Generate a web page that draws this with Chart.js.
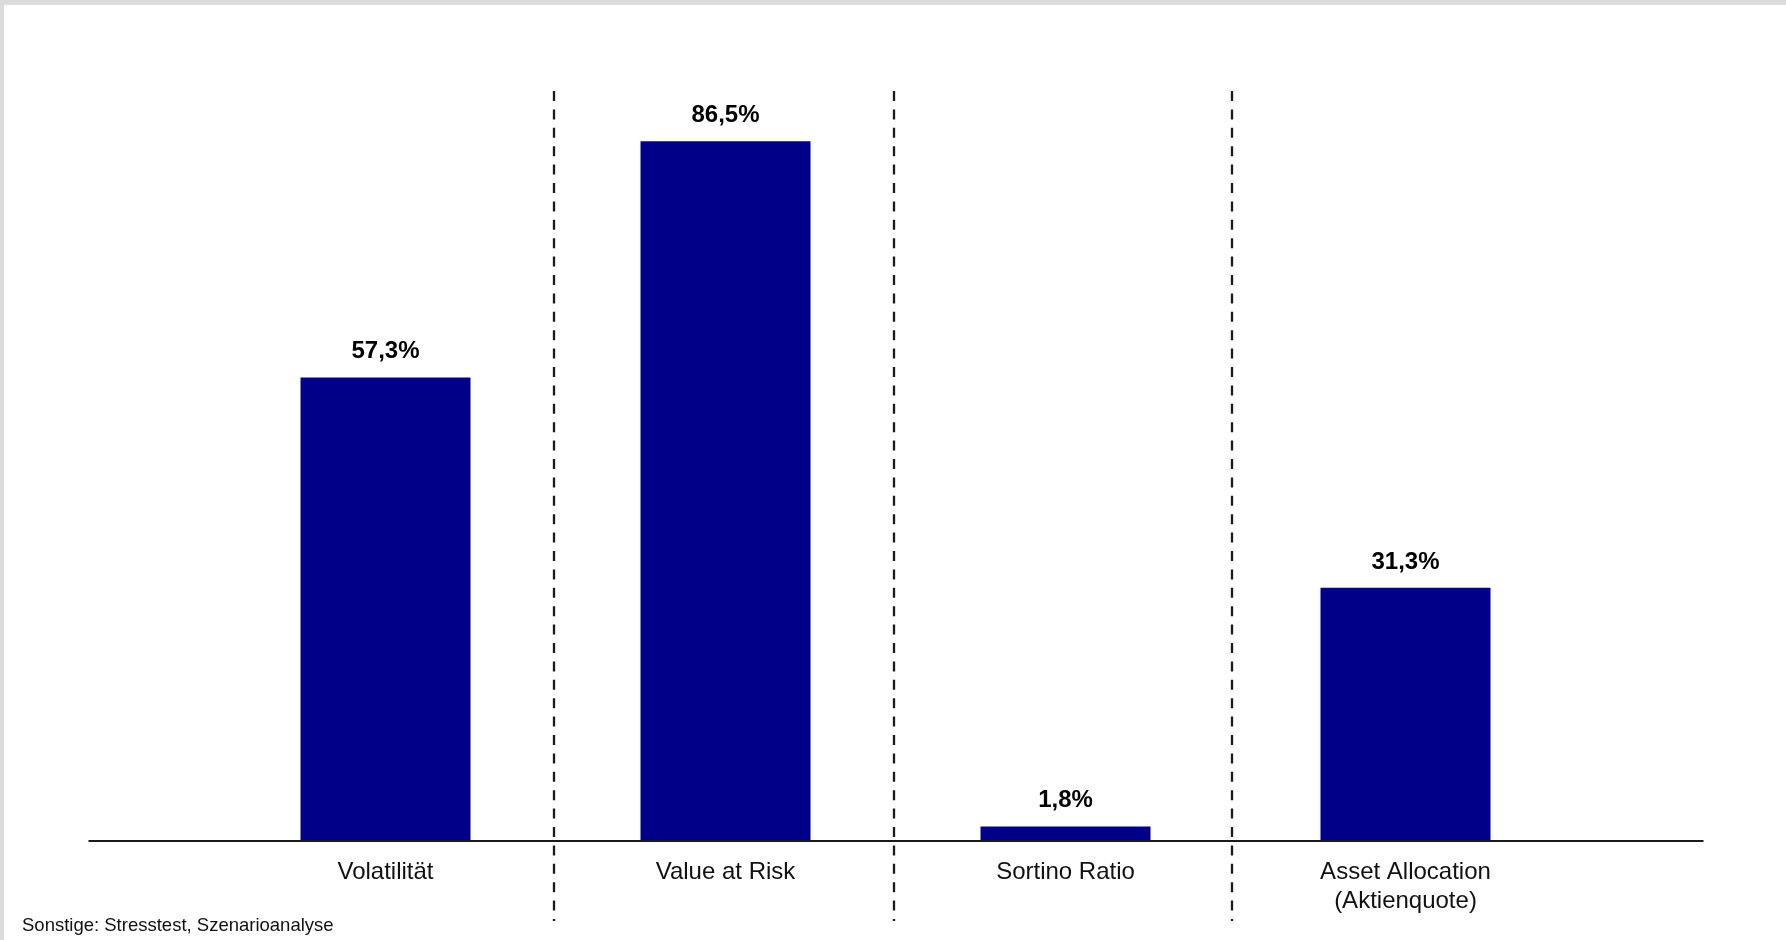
<!DOCTYPE html>
<html lang="de">
<head>
<meta charset="utf-8">
<title>Risikokennzahlen</title>
<script src="https://cdn.jsdelivr.net/npm/chart.js@4"></script>
<style>
  html, body { margin: 0; padding: 0; background: #dcdcdc; overflow: hidden; }
  #frame { position: absolute; left: 4px; top: 5px; width: 1782px; height: 935px; background: #ffffff; }
  #wrap { position: absolute; left: 0; top: 0; width: 1782px; height: 935px; }
  #note { position: absolute; left: 18px; top: 911px; font: 18.5px "Liberation Sans", Arial, sans-serif; line-height: 18px; color: #111; white-space: nowrap; }
</style>
</head>
<body>
<div id="frame">
  <div id="wrap"><canvas id="chart"></canvas></div>
  <div id="note">Sonstige: Stresstest, Szenarioanalyse</div>
</div>
<script>
const categories = ['Volatilität', 'Value at Risk', 'Sortino Ratio', ['Asset Allocation', '(Aktienquote)']];
const shares = [57.3, 86.5, 1.8, 31.3];

const fontFamily = '"Liberation Sans", Arial, sans-serif';

function formatPercent(v) {
    return v.toFixed(1).replace('.', ',') + '%';
}

// baseline, dashed separators and the value on top of each bar
const decorations = {
    id: 'decorations',
    afterDatasetsDraw(chart) {
        const ctx = chart.ctx;
        const area = chart.chartArea;
        const x = chart.scales.x;
        const meta = chart.getDatasetMeta(0);

        ctx.save();
        ctx.strokeStyle = '#1a1a1a';
        ctx.lineWidth = 2;
        ctx.beginPath();
        ctx.moveTo(area.left - 127, area.bottom);
        ctx.lineTo(area.right + 128, area.bottom);
        ctx.stroke();

        ctx.lineWidth = 2.3;
        ctx.setLineDash([10, 8.4]);
        const shift = [-2, -2, -4];
        for (let i = 0; i < categories.length - 1; i++) {
            const px = Math.round((x.getPixelForValue(i) + x.getPixelForValue(i + 1)) / 2) + shift[i];
            ctx.beginPath();
            ctx.moveTo(px, 86);
            ctx.lineTo(px, 916);
            ctx.stroke();
        }
        ctx.setLineDash([]);

        ctx.fillStyle = '#000000';
        ctx.font = 'bold 24px ' + fontFamily;
        ctx.textAlign = 'center';
        ctx.textBaseline = 'alphabetic';
        meta.data.forEach((bar, i) => {
            ctx.fillText(formatPercent(shares[i]), bar.x, bar.y - 19);
        });
        ctx.restore();
    }
};

const data = {
    labels: categories,
    datasets: [{
        data: shares,
        backgroundColor: '#000088',
        borderWidth: 0,
        categoryPercentage: 1,
        barPercentage: 0.5,
    }]
};

const config = {
    type: 'bar',
    data: data,
    options: {
        responsive: true,
        maintainAspectRatio: false,
        animation: false,
        layout: {
            padding: { left: 211.5, right: 210.5, top: 27, bottom: 0 }
        },
        scales: {
            x: {
                grid: { display: false, drawTicks: false },
                border: { display: false },
                ticks: {
                    padding: 17,
                    color: '#111111',
                    maxRotation: 0,
                    autoSkip: false,
                    font: { family: fontFamily, size: 24 },
                },
                afterFit(scale) {
                    scale.height = 99;
                }
            },
            y: {
                display: false,
                min: 0,
                max: 100,
            }
        },
        plugins: {
            legend: { display: false },
            tooltip: { enabled: false },
            title: { display: false }
        }
    },
    plugins: [decorations]
};

const myChart = new Chart(
    document.getElementById('chart').getContext('2d'),
    config
);
</script>
</body>
</html>
